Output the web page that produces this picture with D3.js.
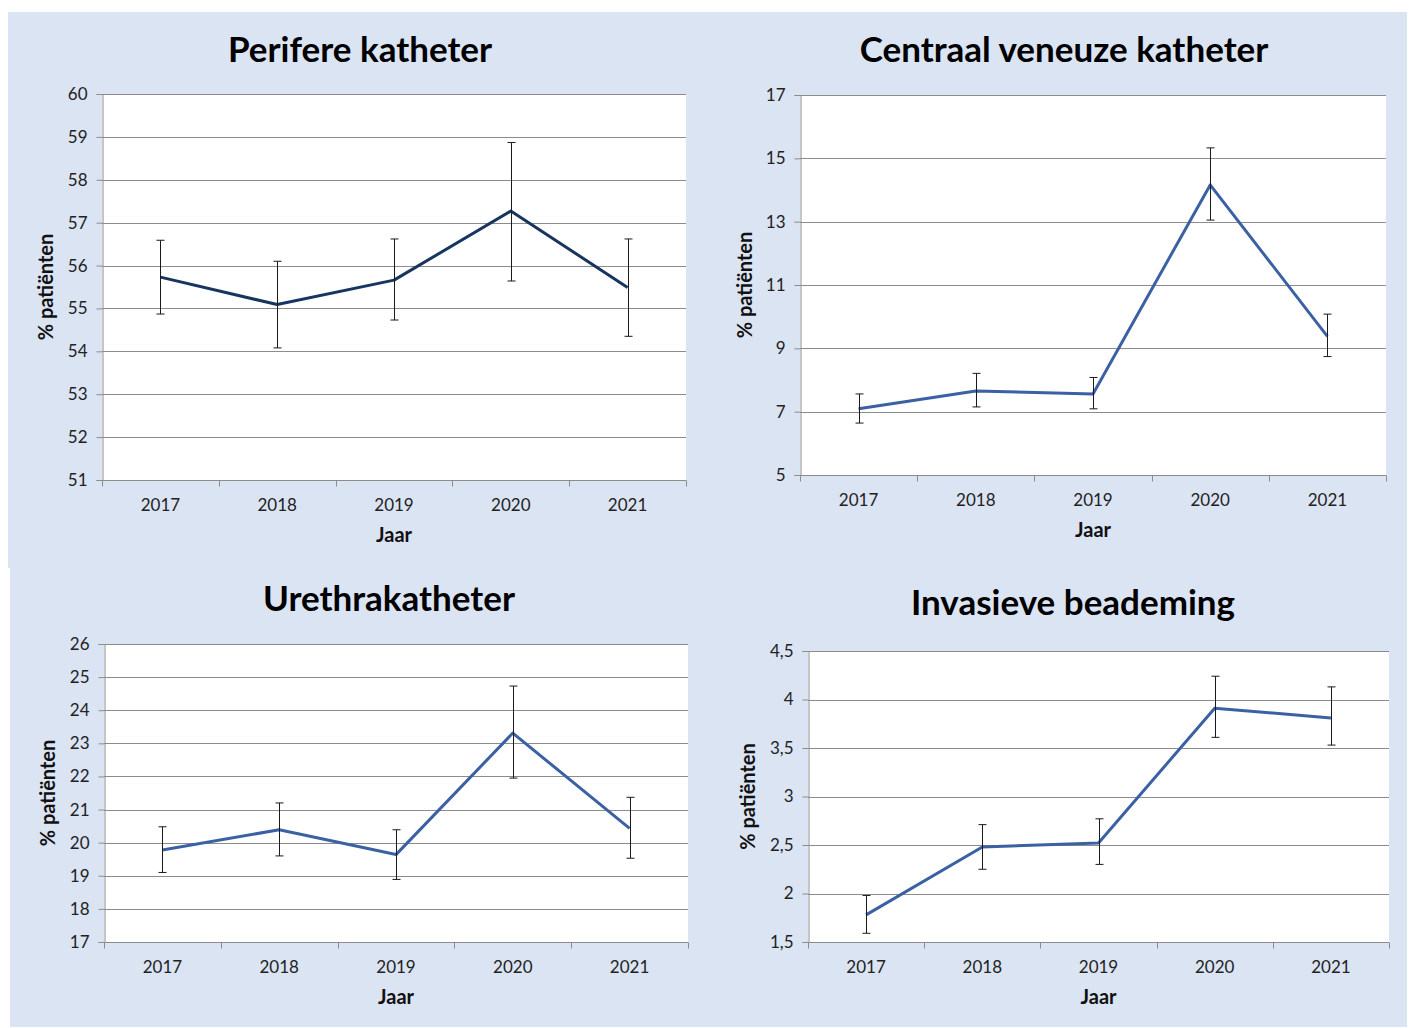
<!DOCTYPE html>
<html><head><meta charset="utf-8">
<script src="https://cdn.jsdelivr.net/npm/d3@7"></script>
<style>html,body{margin:0;padding:0;background:#fff;}svg{display:block;}</style>
</head><body>
<svg id="chart" width="1415" height="1028"></svg>
<script>
// ---------- DATA ----------
const years = ["2017", "2018", "2019", "2020", "2021"];

const perifereTitle = "Perifere katheter";
const perifereValues = [55.73, 55.09, 55.66, 57.27, 55.49];
const perifereLow    = [54.87, 54.08, 54.73, 55.64, 54.35];
const perifereHigh   = [56.59, 56.10, 56.62, 58.87, 56.62];
const perifereTicks  = [51, 52, 53, 54, 55, 56, 57, 58, 59, 60];

const cvkTitle = "Centraal veneuze katheter";
const cvkValues = [7.09, 7.65, 7.56, 14.16, 9.38];
const cvkLow    = [6.64, 7.15, 7.09, 13.05, 8.74];
const cvkHigh   = [7.56, 8.21, 8.08, 15.33, 10.08];
const cvkTicks  = [5, 7, 9, 11, 13, 15, 17];

const urethraTitle = "Urethrakatheter";
const urethraValues = [19.78, 20.39, 19.64, 23.31, 20.43];
const urethraLow    = [19.10, 19.60, 18.89, 21.95, 19.53];
const urethraHigh   = [20.48, 21.20, 20.39, 24.73, 21.37];
const urethraTicks  = [17, 18, 19, 20, 21, 22, 23, 24, 25, 26];

const beademingTitle = "Invasieve beademing";
const beademingValues = [1.78, 2.48, 2.52, 3.91, 3.81];
const beademingLow    = [1.59, 2.25, 2.30, 3.61, 3.53];
const beademingHigh   = [1.98, 2.71, 2.77, 4.24, 4.13];
const beademingTicks  = [1.5, 2, 2.5, 3, 3.5, 4, 4.5];

const yLabel = "% patiënten";
const xLabel = "Jaar";

// ---------- LAYOUT ----------
const svg = d3.select("#chart");
const FONT = "Lato, 'Open Sans', sans-serif";
const BG = "#DBE4F3";
const fmt = d => String(d).replace(".", ",");

const panels = [
  { title: perifereTitle, values: perifereValues, low: perifereLow, high: perifereHigh, ticks: perifereTicks,
    bg: [8, 12, 698, 556], plot: [102, 94, 686, 480], titleX: 360, titleY: 62, tickY: 511, xlabY: 542, ylabX: 46, color: "#17355F" },
  { title: cvkTitle, values: cvkValues, low: cvkLow, high: cvkHigh, ticks: cvkTicks,
    bg: [706, 12, 701, 556], plot: [800, 95, 1386, 475], titleX: 1064, titleY: 62, tickY: 506, xlabY: 537, ylabX: 745, color: "#3B60A3" },
  { title: urethraTitle, values: urethraValues, low: urethraLow, high: urethraHigh, ticks: urethraTicks,
    bg: [10, 568, 696, 459], plot: [104, 644, 688, 942], titleX: 389, titleY: 611, tickY: 973, xlabY: 1004, ylabX: 48, color: "#3B60A3" },
  { title: beademingTitle, values: beademingValues, low: beademingLow, high: beademingHigh, ticks: beademingTicks,
    bg: [706, 568, 701, 459], plot: [808, 651, 1389, 942], titleX: 1073, titleY: 615, tickY: 973, xlabY: 1004, ylabX: 748, color: "#3B60A3" }
];

panels.forEach(p => {
  const [x0, y0, x1, y1] = p.plot;
  const g = svg.append("g");
  g.append("rect").attr("x", p.bg[0]).attr("y", p.bg[1]).attr("width", p.bg[2]).attr("height", p.bg[3]).attr("fill", BG);
  g.append("rect").attr("x", x0).attr("y", y0).attr("width", x1 - x0).attr("height", y1 - y0).attr("fill", "#fff");

  const x = d3.scaleBand().domain(years).range([x0, x1]).padding(0);
  const y = d3.scaleLinear().domain([d3.min(p.ticks), d3.max(p.ticks)]).range([y1, y0]);

  // gridlines
  g.append("g").selectAll("line").data(p.ticks.slice(1)).join("line")
    .attr("x1", x0).attr("x2", x1).attr("y1", d => Math.round(y(d)) + 0.5).attr("y2", d => Math.round(y(d)) + 0.5)
    .attr("stroke", "#8C8C8C").attr("stroke-width", 1);

  // y axis
  const yAxis = d3.axisLeft(y).tickValues(p.ticks).tickFormat(fmt).tickSize(6).tickPadding(9);
  const ya = g.append("g").attr("transform", `translate(${x0 + 0.5},0)`).call(yAxis);
  ya.select(".domain").attr("stroke", "#8C8C8C");
  ya.selectAll(".tick line").attr("stroke", "#8C8C8C");
  ya.selectAll("text").attr("font-family", FONT).attr("font-size", 17).attr("fill", "#222");

  // x axis (ticks at category boundaries)
  const xa = g.append("g").attr("transform", `translate(0,${Math.round(y1) + 0.5})`);
  xa.append("line").attr("x1", x0).attr("x2", x1).attr("stroke", "#8C8C8C");
  const bounds = years.map(d => x(d)).concat([x1]);
  xa.selectAll("line.tk").data(bounds).join("line").attr("class", "tk")
    .attr("x1", d => Math.round(d) + 0.5).attr("x2", d => Math.round(d) + 0.5).attr("y1", 0).attr("y2", 6)
    .attr("stroke", "#8C8C8C");
  g.append("g").selectAll("text").data(years).join("text")
    .attr("x", d => x(d) + x.bandwidth() / 2).attr("y", p.tickY)
    .attr("text-anchor", "middle").attr("font-family", FONT).attr("font-size", 17).attr("fill", "#222").text(d => d);

  // line
  const pts = years.map((d, i) => [x(d) + x.bandwidth() / 2, y(p.values[i])]);
  g.append("path").attr("d", d3.line()(pts)).attr("fill", "none").attr("stroke", p.color)
    .attr("stroke-width", 3).attr("stroke-linejoin", "round");

  // error bars
  const eb = g.append("g").attr("stroke", "#1a1a1a").attr("stroke-width", 1);
  years.forEach((d, i) => {
    const cx = Math.round(x(d) + x.bandwidth() / 2) + 0.5;
    eb.append("line").attr("x1", cx).attr("x2", cx).attr("y1", y(p.low[i])).attr("y2", y(p.high[i]));
    eb.append("line").attr("x1", cx - 4).attr("x2", cx + 4).attr("y1", y(p.low[i])).attr("y2", y(p.low[i]));
    eb.append("line").attr("x1", cx - 4).attr("x2", cx + 4).attr("y1", y(p.high[i])).attr("y2", y(p.high[i]));
  });

  // titles / labels
  g.append("text").attr("x", p.titleX).attr("y", p.titleY).attr("text-anchor", "middle")
    .attr("font-family", FONT).attr("font-weight", "bold").attr("font-size", 35).attr("fill", "#000").text(p.title);
  g.append("text").attr("x", (x0 + x1) / 2).attr("y", p.xlabY).attr("text-anchor", "middle")
    .attr("font-family", FONT).attr("font-weight", "bold").attr("font-size", 20).attr("fill", "#111").text(xLabel);
  g.append("text").attr("transform", `translate(${p.ylabX + 7},${(y0 + y1) / 2}) rotate(-90)`)
    .attr("text-anchor", "middle").attr("font-family", FONT).attr("font-weight", "bold").attr("font-size", 20)
    .attr("fill", "#111").text(yLabel);
});
</script>
</body></html>
